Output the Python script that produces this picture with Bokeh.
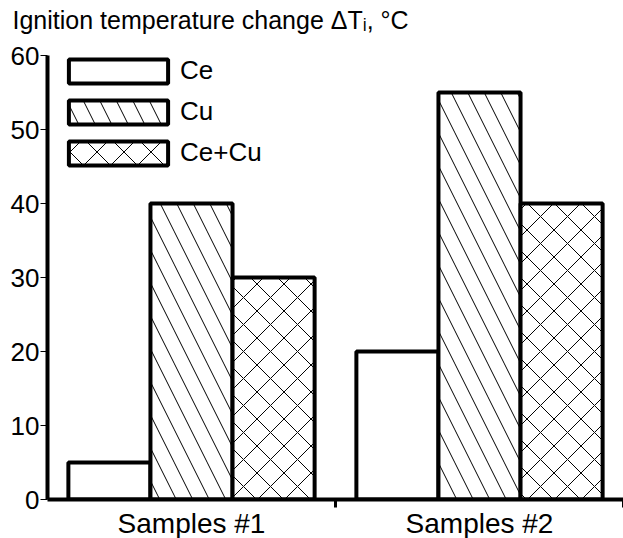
from bokeh.plotting import figure
from bokeh.models import ColumnDataSource, FixedTicker, Legend, LegendItem, Range1d, Label
from bokeh.transform import dodge
from bokeh.embed import file_html
from bokeh.resources import INLINE

samples = ["Samples #1", "Samples #2"]
series = ["Ce", "Cu", "Ce+Cu"]
ce_vals = [5, 20]
cu_vals = [40, 55]
cecu_vals = [30, 40]
y_ticks = [0, 10, 20, 30, 40, 50, 60]
title_text = "Ignition temperature change \u0394T\u1d62, \u00b0C"

FONT = "Liberation Sans"
centers = [i + 0.5 for i in range(len(samples))]
bounds = [i + 1 for i in range(len(samples))]

src = ColumnDataSource(dict(x=centers, ce=ce_vals, cu=cu_vals, cecu=cecu_vals))

FW, FH = 576, 444
p = figure(frame_width=FW, frame_height=FH, output_backend="svg", toolbar_location=None,
           x_range=Range1d(0, len(samples)), y_range=Range1d(0, 60),
           min_border_left=47, min_border_right=0, min_border_top=55, min_border_bottom=39)

bw = 0.285
common = dict(source=src, width=bw, fill_color="white", line_color="black", line_width=4,
              hatch_color="black", hatch_weight=1)
r1 = p.vbar(x=dodge("x", -bw, range=p.x_range), top="ce", **common)
r2 = p.vbar(x=dodge("x", 0, range=p.x_range), top="cu", hatch_pattern="left_diagonal_line",
            hatch_scale=33, **common)
r3 = p.vbar(x=dodge("x", bw, range=p.x_range), top="cecu", hatch_pattern="diagonal_cross",
            hatch_scale=27, **common)

p.grid.visible = False
p.outline_line_color = None
p.background_fill_color = "white"
p.border_fill_color = "white"

# y axis
ya = p.yaxis[0]
ya.ticker = FixedTicker(ticks=y_ticks)
ya.axis_line_width = 4
ya.axis_line_color = "black"
ya.major_tick_out = 7
ya.major_tick_in = 0
ya.major_tick_line_width = 1
ya.minor_tick_line_color = None
ya.major_label_text_font = FONT
ya.major_label_text_font_size = "26px"
ya.major_label_text_color = "black"
ya.major_label_standoff = 1

# x axis
xa = p.xaxis[0]
xa.ticker = FixedTicker(ticks=centers, minor_ticks=bounds)
xa.major_label_overrides = {c: s for c, s in zip(centers, samples)}
xa.axis_line_width = 4
xa.axis_line_color = "black"
xa.major_tick_line_color = None
xa.major_tick_out = 0
xa.major_tick_in = 0
xa.minor_tick_out = 8
xa.minor_tick_in = 0
xa.minor_tick_line_width = 3
xa.minor_tick_line_color = "black"
xa.major_label_text_font = FONT
xa.major_label_text_font_size = "28px"
xa.major_label_text_color = "black"
xa.major_label_standoff = 0

# title as a label in the top side panel
title = Label(x=-35, y=36, x_units="screen", y_units="screen", text=title_text,
              text_font=FONT, text_font_size="25px", text_color="black",
              text_baseline="alphabetic", text_align="left")
p.add_layout(title, "above")

GW, GH, SP = 124, 30, 10
LH = 3 * GH + 2 * SP
legend = Legend(items=[LegendItem(label=series[0], renderers=[r1]),
                       LegendItem(label=series[1], renderers=[r2]),
                       LegendItem(label=series[2], renderers=[r3])],
                location=(9, FH - LH - 3), padding=0, margin=0, spacing=SP,
                glyph_width=GW, glyph_height=GH, label_height=GH, label_standoff=0,
                label_text_font=FONT, label_text_font_size="26px",
                label_text_color="black",
                border_line_color=None, background_fill_alpha=0)
p.add_layout(legend, "center")

open("out.html", "w").write(file_html(p, INLINE))
